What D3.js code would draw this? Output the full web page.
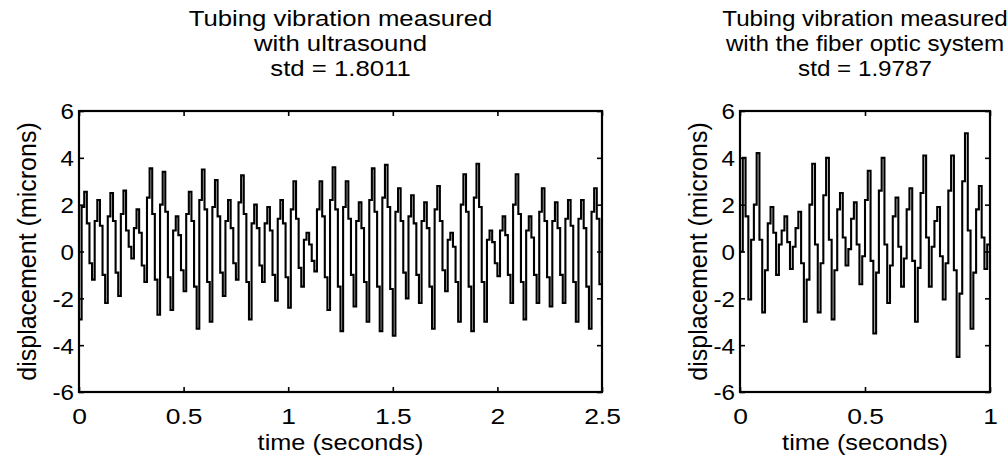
<!DOCTYPE html>
<html>
<head>
<meta charset="utf-8">
<script src="https://cdnjs.cloudflare.com/ajax/libs/d3/7.8.5/d3.min.js"></script>
<style>
body { margin: 0; background: #fff; }
text { font-family: "Liberation Sans", Arial, Helvetica, sans-serif; fill: #000; }
.box { fill: none; stroke: #000; stroke-width: 2.2; }
.line { fill: none; stroke: #000; stroke-width: 2.1; stroke-linejoin: miter; }
.tick line { stroke: #000; stroke-width: 1.6; }
</style>
</head>
<body>
<svg id="chart" width="1008" height="465"></svg>
<script>
// tick values / labels
var yTicks = [-6, -4, -2, 0, 2, 4, 6]
var leftXTicks = [0, 0.5, 1, 1.5, 2, 2.5]
var rightXTicks = [0, 0.5, 1]

var leftTitle = ['Tubing vibration measured', 'with ultrasound', 'std = 1.8011']
var rightTitle = ['Tubing vibration measured', 'with the fiber optic system', 'std = 1.9787']
var xLabel = 'time (seconds)'
var yLabel = 'displacement (microns)'

// ultrasound record, 0 - 2.5 s (microns)
var leftDisplacement = [
    -2.9, 1.9, 2.55, 1.2, -0.5,
    -1.2, 1.3, 2.2, 1.1, -1.0,
    -2.2, 1.5, 2.5, 1.3, -0.9,
    -1.9, 1.6, 2.6, 0.9, 0.2,
    -0.3, 1.0, 1.8, 0.8, -0.6,
    -1.3, 2.3, 3.55, 1.6, -1.2,
    -2.7, 2.0, 3.4, 1.7, -1.1,
    -2.5, 0.9, 1.5, 0.7, -0.8,
    -1.7, 1.6, 2.55, 1.3, -1.5,
    -3.3, 2.2, 3.5, 1.8, -1.3,
    -3.0, 1.9, 3.05, 1.5, -0.9,
    -1.9, 1.3, 2.2, 1.0, -0.5,
    -1.2, 2.1, 3.25, 1.6, -1.3,
    -2.9, 1.2, 2.0, 1.0, -0.6,
    -1.3, 1.2, 1.9, 0.9, -1.0,
    -2.1, 1.4, 2.2, 1.2, -1.1,
    -2.4, 1.8, 3.0, 1.4, -0.7,
    -1.5, 0.5, 0.8, 0.3, -0.4,
    -0.85, 1.8, 3.0, 1.5, -1.1,
    -2.5, 2.2, 3.6, 1.8, -1.5,
    -3.4, 1.9, 3.0, 1.4, -1.0,
    -2.35, 1.3, 2.1, 1.0, -1.3,
    -3.0, 2.2, 3.55, 1.7, -1.5,
    -3.4, 2.3, 3.7, 1.9, -1.6,
    -3.6, 1.7, 2.7, 1.3, -0.9,
    -2.0, 1.5, 2.4, 1.2, -1.0,
    -2.2, 1.3, 2.1, 1.0, -1.5,
    -3.3, 1.8, 2.8, 1.3, -0.8,
    -1.7, 0.5, 0.8, 0.2, -1.3,
    -3.0, 2.0, 3.3, 1.7, -1.5,
    -3.4, 2.3, 3.75, 1.9, -1.3,
    -3.0, 0.5, 0.9, 0.4, -0.5,
    -1.05, 0.9, 1.5, 0.7, -1.0,
    -2.2, 2.0, 3.3, 1.6, -1.3,
    -2.9, 0.9, 1.5, 0.6, -1.0,
    -2.2, 1.7, 2.7, 1.3, -1.1,
    -2.35, 1.3, 2.1, 1.0, -1.0,
    -2.2, 1.4, 2.2, 1.1, -1.3,
    -3.0, 1.4, 2.2, 1.0, -1.5,
    -3.3, 1.7, 2.7, 1.4, -1.4,
    -3.2
]

// fiber optic record, 0 - 1 s
var rightDisplacement = [
    0.0, 4.0, 1.5, -2.05, 0.5,
    2.0, 4.2, 0.5, -2.6, -0.8,
    1.2, 1.9, 0.8, -1.0, 0.3,
    0.9, 1.5, 0.4, -0.75, 0.2,
    1.0, 1.7, -0.5, -3.0, -1.2,
    2.0, 3.75, 0.3, -2.6, -0.5,
    2.4, 4.0, 0.5, -2.9, -0.8,
    1.8, 2.5, 0.6, -0.6, 0.1,
    1.4, 2.1, 0.3, -1.4, -0.2,
    2.2, 3.45, -0.4, -3.5, -0.9,
    2.6, 4.0, 0.3, -2.2, -0.6,
    1.5, 2.3, 0.2, -1.5, -0.3,
    1.8, 2.7, -0.4, -3.0, -0.7,
    2.5, 4.1, 0.6, -1.5, 0.2,
    1.3, 1.9, -0.2, -2.05, -0.5,
    2.6, 4.1, -0.8, -4.5, -1.8,
    3.0, 5.05, 0.9, -3.3, -0.9,
    1.8, 2.8, 0.6, -0.75, 0.3,
    0.2
]

var svg = d3.select('#chart')

drawPanel({ id: 'l', left: 79, right: 602, top: 111, bottom: 392, duration: 2.5, titleStretch: 1.17,
    xTicks: leftXTicks, data: leftDisplacement, title: leftTitle, yLabelX: 36 })
drawPanel({ id: 'r', left: 740, right: 990, top: 111, bottom: 392, duration: 1, titleStretch: 1.1,
    xTicks: rightXTicks, data: rightDisplacement, title: rightTitle, yLabelX: 707 })

function drawPanel(p) {
    var fs = 22
    var x = d3.scaleLinear().domain([0, p.duration]).range([p.left, p.right])
    var y = d3.scaleLinear().domain([-6, 6]).range([p.bottom, p.top])
    var cx = (p.left + p.right) / 2
    var cy = (p.top + p.bottom) / 2
    var n = p.data.length

    var points = p.data.map(function (v, i) {
        return { t: i * p.duration / (n - 1), v: v }
    })

    svg.append('clipPath').attr('id', 'clip-' + p.id)
        .append('rect')
        .attr('x', p.left).attr('y', p.top)
        .attr('width', p.right - p.left).attr('height', p.bottom - p.top)

    var valueline = d3.line()
        .x(function (d) { return x(d.t) })
        .y(function (d) { return y(d.v) })
        .curve(d3.curveStepAfter)

    svg.append('path')
        .datum(points)
        .attr('class', 'line')
        .attr('clip-path', 'url(#clip-' + p.id + ')')
        .attr('d', valueline)

    var fmt = function (d) { return String(d) }

    // bottom axis, ticks pointing in
    var gx = svg.append('g')
        .attr('transform', 'translate(0,' + p.bottom + ')')
        .call(d3.axisBottom(x).tickValues(p.xTicks).tickSizeInner(-5).tickSizeOuter(0).tickFormat(fmt))
    gx.selectAll('text')
        .attr('y', 0).attr('dy', null)
        .attr('transform', 'translate(0,32) scale(1.2,1)')
        .attr('font-size', fs)

    // top axis, ticks only
    svg.append('g')
        .attr('transform', 'translate(0,' + p.top + ')')
        .call(d3.axisTop(x).tickValues(p.xTicks).tickSizeInner(-5).tickSizeOuter(0).tickFormat(''))

    // left axis
    var gy = svg.append('g')
        .attr('transform', 'translate(' + p.left + ',0)')
        .call(d3.axisLeft(y).tickValues(yTicks).tickSizeInner(-5).tickSizeOuter(0).tickFormat(fmt))
    gy.selectAll('text')
        .attr('x', 0).attr('dy', '0.36em')
        .attr('transform', 'translate(-5,0) scale(1.1,1)')
        .attr('font-size', fs)

    // right axis
    svg.append('g')
        .attr('transform', 'translate(' + p.right + ',0)')
        .call(d3.axisRight(y).tickValues(yTicks).tickSizeInner(-5).tickSizeOuter(0).tickFormat(''))

    svg.selectAll('.domain').remove()

    svg.append('rect')
        .attr('class', 'box')
        .attr('x', p.left).attr('y', p.top)
        .attr('width', p.right - p.left).attr('height', p.bottom - p.top)

    // title, three lines
    var baselines = [26, 51, 76]
    p.title.forEach(function (line, i) {
        svg.append('text')
            .attr('text-anchor', 'middle')
            .attr('font-size', fs)
            .attr('transform', 'translate(' + cx + ',' + baselines[i] + ') scale(' + p.titleStretch + ',1)')
            .text(line)
    })

    svg.append('text')
        .attr('text-anchor', 'middle')
        .attr('font-size', fs)
        .attr('transform', 'translate(' + cx + ',450) scale(1.15,1)')
        .text(xLabel)

    svg.append('text')
        .attr('text-anchor', 'middle')
        .attr('font-size', 25)
        .attr('transform', 'translate(' + p.yLabelX + ',' + cy + ') rotate(-90)')
        .text(yLabel)
}
</script>
</body>
</html>
